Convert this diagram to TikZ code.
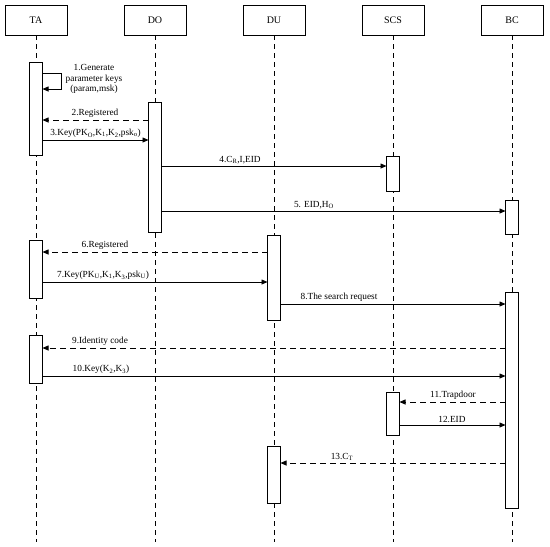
\documentclass[tikz,border=0pt]{standalone}
\usepackage{fontspec}
\setmainfont{Liberation Serif}
\usetikzlibrary{arrows.meta, positioning}

\begin{document}
\begin{tikzpicture}[x=1pt, y=-1pt,
  every node/.style={font=\fontsize{9.3}{10.5}\selectfont},
  actor/.style={draw, line width=0.8pt, minimum width=62pt, minimum height=30pt, inner sep=0pt, font=\fontsize{10}{12}\selectfont},
  act/.style={draw, fill=white, line width=0.8pt, minimum width=13pt, inner sep=0pt, outer sep=0pt},
  life/.style={line width=0.8pt, dash pattern=on 5pt off 4pt},
  msg/.style={-{Triangle[length=6pt, width=5pt]}, line width=0.8pt},
  reply/.style={msg, dash pattern=on 6pt off 4pt},
  lbl/.style={anchor=south, inner sep=1pt}
]
\useasboundingbox (0,0) rectangle (550,547);

% Actors
\node[actor] (ta) at (36,20) {TA};
\node[actor] (do) at (155,20) {DO};
\node[actor] (du) at (274,20) {DU};
\node[actor] (scs) at (393,20) {SCS};
\node[actor] (bc) at (512,20) {BC};

% Lifelines
\coordinate (bottom) at (0,542);
\foreach \a in {ta,do,du,scs,bc}
  \draw[life] (\a.south) -- (\a.south |- bottom);

% Activations
\node[act, minimum height=93pt] (ta1) at (36,108.5) {};
\node[act, minimum height=130pt] (do1) at (155,167) {};
\node[act, minimum height=35pt] (scs1) at (393,173.5) {};
\node[act, minimum height=34pt] (bc1) at (512,217) {};
\node[act, minimum height=58pt] (ta2) at (36,269) {};
\node[act, minimum height=85pt] (du1) at (274,277.5) {};
\node[act, minimum height=216pt] (bc2) at (512,400) {};
\node[act, minimum height=48pt] (ta3) at (36,359) {};
\node[act, minimum height=43pt] (scs2) at (393,413.5) {};
\node[act, minimum height=57pt] (du2) at (274,474.5) {};

% Message levels
\coordinate (y1a) at (0,73);
\coordinate (y1b) at (0,89);
\coordinate (y2) at (0,120);
\coordinate (y3) at (0,140);
\coordinate (y4) at (0,166);
\coordinate (y5) at (0,211);
\coordinate (y6) at (0,252);
\coordinate (y7) at (0,282);
\coordinate (y8) at (0,304);
\coordinate (y9) at (0,348);
\coordinate (y10) at (0,376);
\coordinate (y11) at (0,402);
\coordinate (y12) at (0,425);
\coordinate (y13) at (0,463);

% Messages
\draw[msg] (ta1.east |- y1a) -- ++(19,0) |- (ta1.east |- y1b);
\node[align=center] (l1) at (94,79) {1.Generate\\parameter keys\\(param,msk)};

\draw[reply] (do1.west |- y2) -- (ta1.east |- y2);
\node[lbl] (l2) at (95,119) {2.Registered};

\draw[msg] (ta1.east |- y3) -- (do1.west |- y3);
\node[lbl] (l3) at (95.5,139) {3.Key(PK\textsubscript{O},K\textsubscript{1},K\textsubscript{2},psk\textsubscript{o})};

\draw[msg] (do1.east |- y4) -- (scs1.west |- y4);
\node[lbl] (l4) at (240,165) {4.C\textsubscript{R},I,EID};

\draw[msg] (do1.east |- y5) -- (bc1.west |- y5);
\node[lbl] (l5) at (314,210) {5. EID,H\textsubscript{O}};

\draw[reply] (du1.west |- y6) -- (ta2.east |- y6);
\node[lbl] (l6) at (105,251) {6.Registered};

\draw[msg] (ta2.east |- y7) -- (du1.west |- y7);
\node[lbl] (l7) at (103,281) {7.Key(PK\textsubscript{U},K\textsubscript{1},K\textsubscript{3},psk\textsubscript{U})};

\draw[msg] (du1.east |- y8) -- (bc2.west |- y8);
\node[lbl] (l8) at (339,303) {8.The search request};

\draw[reply] (bc2.west |- y9) -- (ta3.east |- y9);
\node[lbl] (l9) at (100,347) {9.Identity code};

\draw[msg] (ta3.east |- y10) -- (bc2.west |- y10);
\node[lbl] (l10) at (101,375) {10.Key(K\textsubscript{2},K\textsubscript{3})};

\draw[reply] (bc2.west |- y11) -- (scs2.east |- y11);
\node[lbl] (l11) at (453,401) {11.Trapdoor};

\draw[msg] (scs2.east |- y12) -- (bc2.west |- y12);
\node[lbl] (l12) at (452,424) {12.EID};

\draw[reply] (bc2.west |- y13) -- (du2.east |- y13);
\node[lbl] (l13) at (342,462) {13.C\textsubscript{T}};

\end{tikzpicture}
\end{document}
